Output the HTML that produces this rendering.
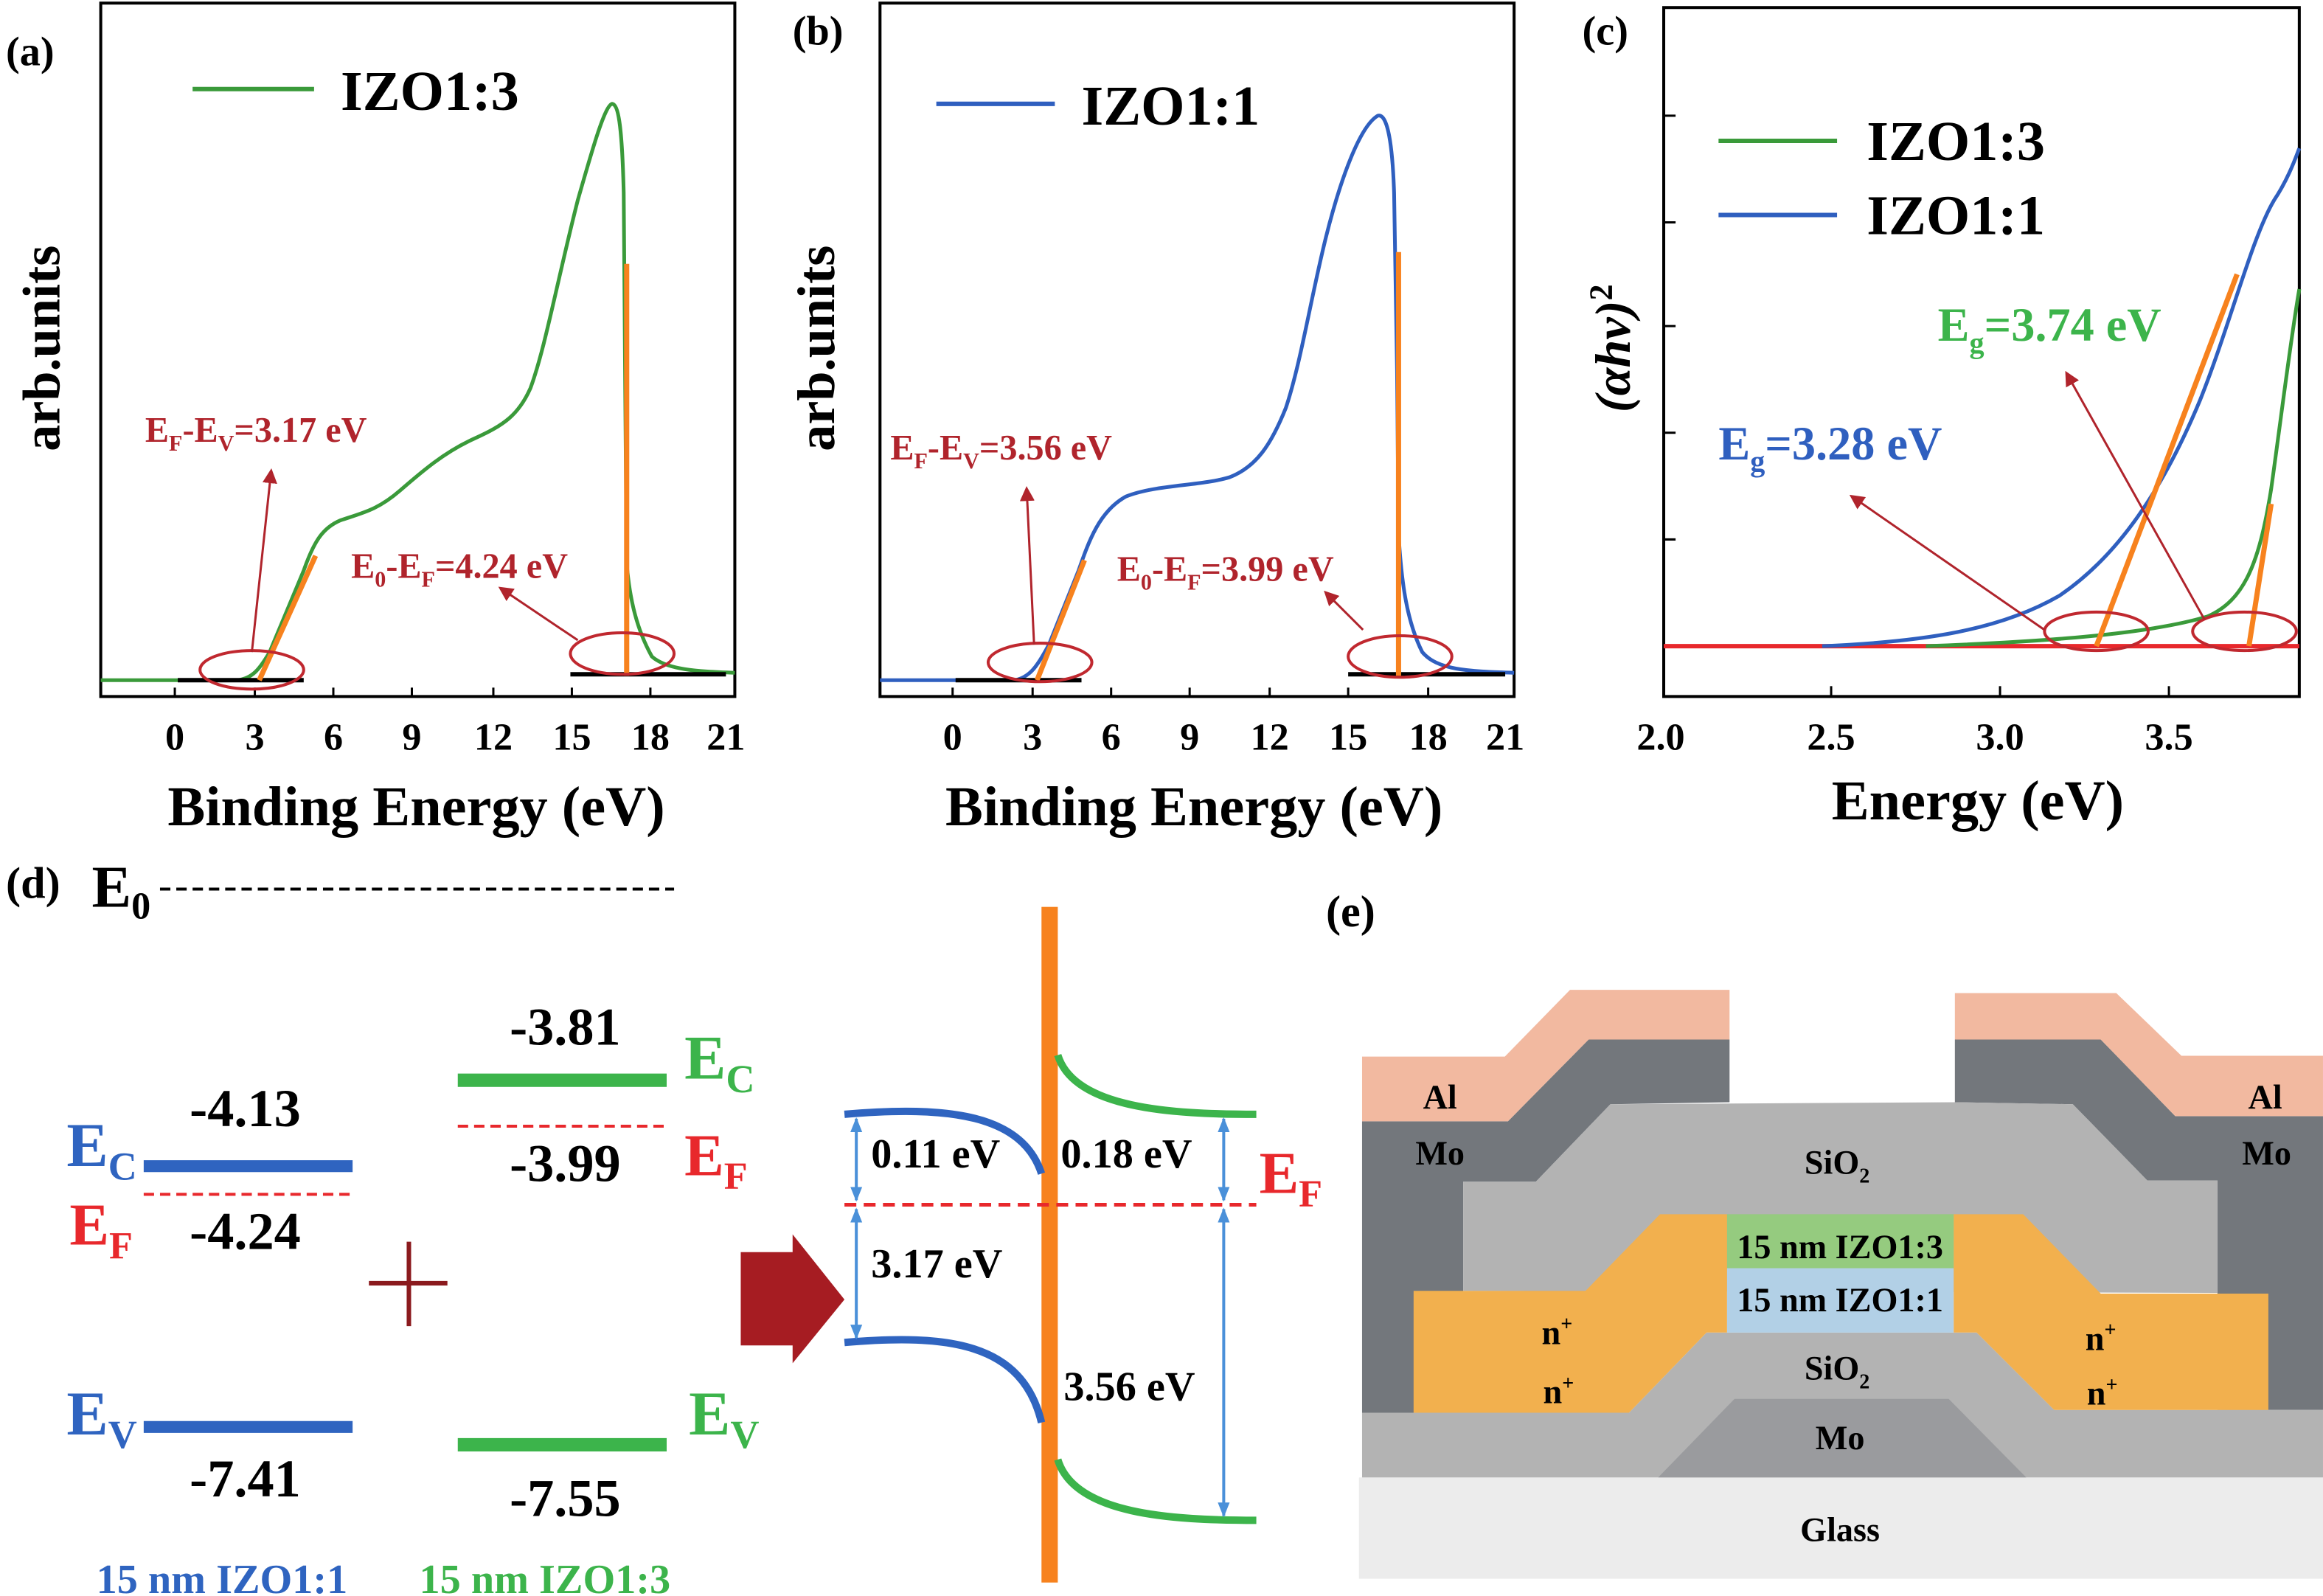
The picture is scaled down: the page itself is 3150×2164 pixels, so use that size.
<!DOCTYPE html>
<html><head><meta charset="utf-8"><style>html,body{margin:0;padding:0;background:#fff}svg{display:block}</style></head>
<body>
<svg xmlns="http://www.w3.org/2000/svg" width="3150" height="2164" viewBox="0 0 1568 1077" font-family="Liberation Serif, serif" font-weight="bold">
<defs>
<marker id="ar" markerWidth="10" markerHeight="10" refX="8" refY="5" orient="auto" markerUnits="userSpaceOnUse"><path d="M0,0 L10,5 L0,10 z" fill="#b0242c"/></marker>
<marker id="ba" markerWidth="10" markerHeight="10" refX="9" refY="5" orient="auto-start-reverse" markerUnits="userSpaceOnUse"><path d="M0,1 L10,5 L0,9 z" fill="#4a90d9"/></marker>
</defs>
<rect width="1568" height="1077" fill="#fff"/>

<!-- Panel a -->
<g>
<rect x="68" y="2" width="428" height="468" fill="none" stroke="#000" stroke-width="2"/>
<g font-size="26" text-anchor="middle">
<text x="118" y="506">0</text><text x="172" y="506">3</text><text x="225" y="506">6</text><text x="278" y="506">9</text><text x="333" y="506">12</text><text x="386" y="506">15</text><text x="439" y="506">18</text><text x="490" y="506">21</text>
</g>
<g stroke="#000" stroke-width="1.5"><line x1="118" y1="470" x2="118" y2="464"/><line x1="172" y1="470" x2="172" y2="464"/><line x1="225" y1="470" x2="225" y2="464"/><line x1="278" y1="470" x2="278" y2="464"/><line x1="333" y1="470" x2="333" y2="464"/><line x1="386" y1="470" x2="386" y2="464"/><line x1="439" y1="470" x2="439" y2="464"/></g>
<text x="281" y="557" font-size="38" text-anchor="middle">Binding Energy (eV)</text>
<text transform="translate(40,235) rotate(-90)" font-size="36" text-anchor="middle">arb.units</text>
<text x="4" y="44" font-size="28">(a)</text>
<line x1="130" y1="60" x2="212" y2="60" stroke="#3a9a3a" stroke-width="3"/>
<text x="230" y="74" font-size="38">IZO1:3</text>
<path fill="none" stroke="#3a9a3a" stroke-width="2.5" stroke-linejoin="round" d="M68,459 L160,459 C170,458 175,452 182,440 L205,385 C212,365 218,356 230,351 C245,346 255,344 270,331 C285,318 300,305 320,296 C340,287 350,280 358,262 C368,235 376,190 390,135 C400,100 408,72 413,70 C418,70 420,90 421,130 L422,260 L423,380 C425,405 430,425 440,443 C450,452 470,453 496,454"/>
<line x1="120" y1="459" x2="205" y2="459" stroke="#000" stroke-width="3"/>
<line x1="385" y1="455" x2="490" y2="455" stroke="#000" stroke-width="3"/>
<line x1="175" y1="459" x2="213" y2="375" stroke="#f7821e" stroke-width="3.5"/>
<line x1="423" y1="178" x2="423" y2="456" stroke="#f7821e" stroke-width="3.5"/>
<ellipse cx="170" cy="452" rx="35" ry="13" fill="none" stroke="#c0282f" stroke-width="2"/>
<ellipse cx="420" cy="441" rx="35" ry="14" fill="none" stroke="#c0282f" stroke-width="2"/>
<line x1="170" y1="440" x2="183" y2="318" stroke="#b0242c" stroke-width="1.5" marker-end="url(#ar)"/>
<line x1="390" y1="432" x2="338" y2="397" stroke="#b0242c" stroke-width="1.5" marker-end="url(#ar)"/>
<text x="98" y="298" font-size="24" fill="#b0242c">E<tspan font-size="15" dy="6">F</tspan><tspan dy="-6">-E</tspan><tspan font-size="15" dy="6">V</tspan><tspan dy="-6">=3.17 eV</tspan></text>
<text x="237" y="390" font-size="24" fill="#b0242c">E<tspan font-size="15" dy="6">0</tspan><tspan dy="-6">-E</tspan><tspan font-size="15" dy="6">F</tspan><tspan dy="-6">=4.24 eV</tspan></text>
</g>

<!-- Panel b -->
<g>
<rect x="594" y="2" width="428" height="468" fill="none" stroke="#000" stroke-width="2"/>
<g font-size="26" text-anchor="middle">
<text x="643" y="506">0</text><text x="697" y="506">3</text><text x="750" y="506">6</text><text x="803" y="506">9</text><text x="857" y="506">12</text><text x="910" y="506">15</text><text x="964" y="506">18</text><text x="1016" y="506">21</text>
</g>
<g stroke="#000" stroke-width="1.5"><line x1="643" y1="470" x2="643" y2="464"/><line x1="697" y1="470" x2="697" y2="464"/><line x1="750" y1="470" x2="750" y2="464"/><line x1="803" y1="470" x2="803" y2="464"/><line x1="857" y1="470" x2="857" y2="464"/><line x1="910" y1="470" x2="910" y2="464"/><line x1="964" y1="470" x2="964" y2="464"/></g>
<text x="806" y="557" font-size="38" text-anchor="middle">Binding Energy (eV)</text>
<text transform="translate(563,235) rotate(-90)" font-size="36" text-anchor="middle">arb.units</text>
<text x="535" y="30" font-size="28">(b)</text>
<line x1="632" y1="70" x2="712" y2="70" stroke="#2f5fbf" stroke-width="3"/>
<text x="730" y="84" font-size="38">IZO1:1</text>
<path fill="none" stroke="#2f5fbf" stroke-width="2.5" stroke-linejoin="round" d="M594,459 L685,459 C695,457 700,450 708,435 L728,385 C735,365 742,345 760,335 C780,327 810,328 830,322 C848,315 858,300 868,275 C878,245 885,200 895,160 C905,120 918,85 930,78 C937,76 940,100 941,130 L943,250 L944,360 C946,395 950,420 960,440 C970,452 990,453 1022,454"/>
<line x1="645" y1="459" x2="730" y2="459" stroke="#000" stroke-width="3"/>
<line x1="910" y1="455" x2="1016" y2="455" stroke="#000" stroke-width="3"/>
<line x1="700" y1="459" x2="732" y2="378" stroke="#f7821e" stroke-width="3.5"/>
<line x1="944" y1="170" x2="944" y2="456" stroke="#f7821e" stroke-width="3.5"/>
<ellipse cx="702" cy="447" rx="35" ry="13" fill="none" stroke="#c0282f" stroke-width="2"/>
<ellipse cx="945" cy="443" rx="35" ry="14" fill="none" stroke="#c0282f" stroke-width="2"/>
<line x1="698" y1="435" x2="693" y2="330" stroke="#b0242c" stroke-width="1.5" marker-end="url(#ar)"/>
<line x1="920" y1="425" x2="895" y2="400" stroke="#b0242c" stroke-width="1.5" marker-end="url(#ar)"/>
<text x="601" y="310" font-size="24" fill="#b0242c">E<tspan font-size="15" dy="6">F</tspan><tspan dy="-6">-E</tspan><tspan font-size="15" dy="6">V</tspan><tspan dy="-6">=3.56 eV</tspan></text>
<text x="754" y="392" font-size="24" fill="#b0242c">E<tspan font-size="15" dy="6">0</tspan><tspan dy="-6">-E</tspan><tspan font-size="15" dy="6">F</tspan><tspan dy="-6">=3.99 eV</tspan></text>
</g>

<!-- Panel c -->
<g>
<rect x="1123" y="5" width="429" height="465" fill="none" stroke="#000" stroke-width="2"/>
<g stroke="#000" stroke-width="1.5"><line x1="1123" y1="78" x2="1131" y2="78"/><line x1="1123" y1="150" x2="1131" y2="150"/><line x1="1123" y1="220" x2="1131" y2="220"/><line x1="1123" y1="292" x2="1131" y2="292"/><line x1="1123" y1="364" x2="1131" y2="364"/>
<line x1="1236" y1="470" x2="1236" y2="463"/><line x1="1350" y1="470" x2="1350" y2="463"/><line x1="1464" y1="470" x2="1464" y2="463"/></g>
<g font-size="26" text-anchor="middle"><text x="1121" y="506">2.0</text><text x="1236" y="506">2.5</text><text x="1350" y="506">3.0</text><text x="1464" y="506">3.5</text></g>
<text x="1335" y="553" font-size="38" text-anchor="middle">Energy (eV)</text>
<text transform="translate(1100,235) rotate(-90)" font-size="34" text-anchor="middle" font-style="italic">(αhν)<tspan font-size="22" dy="-12" font-style="normal">2</tspan></text>
<text x="1068" y="30" font-size="28">(c)</text>
<line x1="1160" y1="95" x2="1240" y2="95" stroke="#3a9a3a" stroke-width="3"/>
<line x1="1160" y1="145" x2="1240" y2="145" stroke="#2f5fbf" stroke-width="3"/>
<text x="1260" y="108" font-size="38">IZO1:3</text>
<text x="1260" y="158" font-size="38">IZO1:1</text>
<line x1="1123" y1="436" x2="1552" y2="436" stroke="#e8282c" stroke-width="3"/>
<path fill="none" stroke="#3a9a3a" stroke-width="2.5" d="M1300,436 C1380,433 1450,428 1490,416 C1515,405 1525,380 1533,330 C1540,280 1546,230 1552,195"/>
<path fill="none" stroke="#2f5fbf" stroke-width="2.5" d="M1230,436 C1300,433 1350,425 1390,402 C1430,375 1460,330 1485,270 C1505,220 1520,160 1535,135 C1545,120 1550,105 1552,100"/>
<line x1="1415" y1="436" x2="1510" y2="185" stroke="#f7821e" stroke-width="3.5"/>
<line x1="1518" y1="436" x2="1533" y2="340" stroke="#f7821e" stroke-width="3.5"/>
<ellipse cx="1415" cy="426" rx="35" ry="13" fill="none" stroke="#c0282f" stroke-width="2"/>
<ellipse cx="1515" cy="426" rx="35" ry="13" fill="none" stroke="#c0282f" stroke-width="2"/>
<line x1="1380" y1="425" x2="1250" y2="335" stroke="#b0242c" stroke-width="1.5" marker-end="url(#ar)"/>
<line x1="1488" y1="418" x2="1395" y2="252" stroke="#b0242c" stroke-width="1.5" marker-end="url(#ar)"/>
<text x="1308" y="230" font-size="32" fill="#3cb44b">E<tspan font-size="20" dy="8">g</tspan><tspan dy="-8">=3.74 eV</tspan></text>
<text x="1160" y="310" font-size="32" fill="#2f5fbf">E<tspan font-size="20" dy="8">g</tspan><tspan dy="-8">=3.28 eV</tspan></text>
</g>

<!-- Panel d -->
<g>
<text x="4" y="606" font-size="30">(d)</text>
<text x="62" y="612" font-size="40">E<tspan font-size="26" dy="8">0</tspan></text>
<line x1="108" y1="600" x2="455" y2="600" stroke="#000" stroke-width="2" stroke-dasharray="7,4"/>
<line x1="97" y1="787" x2="238" y2="787" stroke="#2f64c0" stroke-width="8"/>
<line x1="97" y1="806" x2="238" y2="806" stroke="#e8282c" stroke-width="2" stroke-dasharray="7,4"/>
<line x1="97" y1="963" x2="238" y2="963" stroke="#2f64c0" stroke-width="8"/>
<text x="45" y="787" font-size="42" fill="#2f64c0">E<tspan font-size="27" dy="9">C</tspan></text>
<text x="47" y="840" font-size="40" fill="#e8282c">E<tspan font-size="26" dy="9">F</tspan></text>
<text x="45" y="968" font-size="42" fill="#2f64c0">E<tspan font-size="27" dy="9">V</tspan></text>
<text x="128" y="760" font-size="36">-4.13</text>
<text x="128" y="843" font-size="36">-4.24</text>
<text x="128" y="1010" font-size="36">-7.41</text>
<line x1="249" y1="866" x2="302" y2="866" stroke="#8b1a1e" stroke-width="3"/>
<line x1="276" y1="838" x2="276" y2="895" stroke="#8b1a1e" stroke-width="3"/>
<line x1="309" y1="729" x2="450" y2="729" stroke="#3cb44b" stroke-width="9"/>
<line x1="309" y1="760" x2="450" y2="760" stroke="#e8282c" stroke-width="2" stroke-dasharray="7,4"/>
<line x1="309" y1="975" x2="450" y2="975" stroke="#3cb44b" stroke-width="9"/>
<text x="344" y="705" font-size="36">-3.81</text>
<text x="344" y="797" font-size="36">-3.99</text>
<text x="344" y="1023" font-size="36">-7.55</text>
<text x="462" y="728" font-size="42" fill="#3cb44b">E<tspan font-size="27" dy="9">C</tspan></text>
<text x="462" y="793" font-size="40" fill="#e8282c">E<tspan font-size="26" dy="9">F</tspan></text>
<text x="465" y="968" font-size="42" fill="#3cb44b">E<tspan font-size="27" dy="9">V</tspan></text>
<text x="65" y="1075" font-size="28" fill="#2f64c0">15 nm IZO1:1</text>
<text x="283" y="1075" font-size="28" fill="#3cb44b">15 nm IZO1:3</text>
<polygon points="500,845 535,845 535,833 570,877 535,920 535,908 500,908" fill="#a61c22"/>
<rect x="703" y="612" width="11" height="456" fill="#f7821e"/>
<path d="M570,752 C640,746 690,752 703,792" fill="none" stroke="#2f64c0" stroke-width="5"/>
<path d="M570,906 C640,900 690,906 703,960" fill="none" stroke="#2f64c0" stroke-width="5"/>
<path d="M714,712 C725,748 790,752 848,752" fill="none" stroke="#3cb44b" stroke-width="5"/>
<path d="M714,985 C725,1022 790,1026 848,1026" fill="none" stroke="#3cb44b" stroke-width="5"/>
<line x1="570" y1="813" x2="848" y2="813" stroke="#e8282c" stroke-width="2.5" stroke-dasharray="8,5"/>
<text x="850" y="805" font-size="40" fill="#e8282c">E<tspan font-size="26" dy="9">F</tspan></text>
<g stroke="#4a90d9" stroke-width="2">
<line x1="578" y1="755" x2="578" y2="810" marker-start="url(#ba)" marker-end="url(#ba)"/>
<line x1="578" y1="816" x2="578" y2="903" marker-start="url(#ba)" marker-end="url(#ba)"/>
<line x1="826" y1="755" x2="826" y2="810" marker-start="url(#ba)" marker-end="url(#ba)"/>
<line x1="826" y1="816" x2="826" y2="1023" marker-start="url(#ba)" marker-end="url(#ba)"/>
</g>
<text x="588" y="788" font-size="28">0.11 eV</text>
<text x="588" y="862" font-size="28">3.17 eV</text>
<text x="716" y="788" font-size="28">0.18 eV</text>
<text x="718" y="945" font-size="28">3.56 eV</text>
</g>

<!-- Panel e -->
<text x="895" y="625" font-size="30">(e)</text>
<g transform="translate(911,655.4) scale(0.419,0.268)">
<rect x="15" y="1275" width="1553" height="255" fill="#ececec"/>
<polygon points="20,378 255,378 385,172 612,172 612,330 420,335 300,530 183,530 183,1112 20,1112" fill="#73777c"/>
<polygon points="975,172 1210,172 1330,365 1568,365 1568,1105 1398,1105 1398,527 1285,527 1165,335 975,330" fill="#73777c"/>
<polygon points="20,1112 450,1112 575,910 1010,910 1135,1105 1568,1105 1568,1275 20,1275" fill="#b3b3b3"/>
<polygon points="497,1275 620,1077 965,1077 1090,1275" fill="#9a9b9e"/>
<polygon points="300,530 420,335 975,330 1165,335 1285,527 1398,527 1398,810 183,805 183,530" fill="#b3b3b3"/>
<polygon points="103,805 380,805 500,612 608,612 608,910 575,910 450,1112 103,1112" fill="#f2b04e"/>
<polygon points="973,612 1085,612 1210,812 1480,812 1480,1105 1135,1105 1010,910 973,910" fill="#f2b04e"/>
<rect x="608" y="612" width="365" height="136" fill="#95cb7f"/>
<rect x="608" y="748" width="365" height="162" fill="#b2d0e6"/>
<polygon points="20,215 250,215 355,47 612,47 612,172 385,172 255,378 20,378" fill="#f2b9a0"/>
<polygon points="975,55 1235,55 1340,213 1568,213 1568,365 1330,365 1210,172 975,172" fill="#f2b9a0"/>
</g>
<g font-size="23" text-anchor="middle">
<text x="972" y="748">Al</text><text x="1529" y="748">Al</text>
<text x="972" y="786">Mo</text><text x="1530" y="786">Mo</text>
<text x="1240" y="792">SiO<tspan font-size="14" dy="6">2</tspan></text>
<text x="1242" y="849">15 nm IZO1:3</text>
<text x="1242" y="885">15 nm IZO1:1</text>
<text x="1051" y="907">n<tspan font-size="14" dy="-9">+</tspan></text>
<text x="1052" y="947">n<tspan font-size="14" dy="-9">+</tspan></text>
<text x="1418" y="911">n<tspan font-size="14" dy="-9">+</tspan></text>
<text x="1419" y="948">n<tspan font-size="14" dy="-9">+</tspan></text>
<text x="1240" y="931">SiO<tspan font-size="14" dy="6">2</tspan></text>
<text x="1242" y="978">Mo</text>
<text x="1242" y="1040">Glass</text>
</g>
</svg>
</body></html>
